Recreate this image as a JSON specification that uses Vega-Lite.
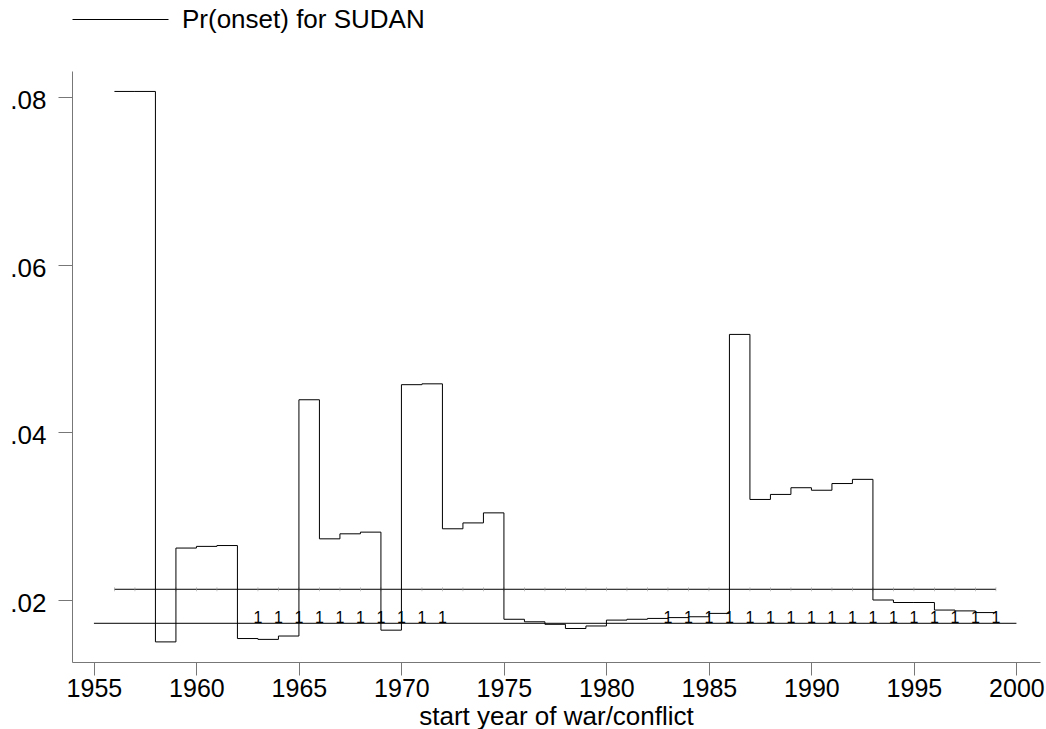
{
  "$schema": "https://vega.github.io/schema/vega-lite/v6.json",
  "autosize": {"type": "none"},
  "padding": {"left": 72, "top": 71, "right": 6, "bottom": 67},
  "width": 968,
  "height": 591,
  "background": "white",
  "config": {
    "view": {"stroke": null},
    "font": "Liberation Sans",
    "axis": {"grid": false, "labelColor": "black", "titleColor": "black", "domainColor": "#777", "tickColor": "#777", "labelFont": "Liberation Sans", "titleFont": "Liberation Sans"}
  },
  "datasets": {
    "pr": [
      {"year": 1956, "value": 0.0807}, {"year": 1957, "value": 0.0807}, {"year": 1958, "value": 0.0150},
      {"year": 1959, "value": 0.0262}, {"year": 1960, "value": 0.0264}, {"year": 1961, "value": 0.0265},
      {"year": 1962, "value": 0.0154}, {"year": 1963, "value": 0.0153}, {"year": 1964, "value": 0.0157},
      {"year": 1965, "value": 0.0439}, {"year": 1966, "value": 0.0273}, {"year": 1967, "value": 0.0279},
      {"year": 1968, "value": 0.0281}, {"year": 1969, "value": 0.0164}, {"year": 1970, "value": 0.0457},
      {"year": 1971, "value": 0.0458}, {"year": 1972, "value": 0.0285}, {"year": 1973, "value": 0.0292},
      {"year": 1974, "value": 0.0304}, {"year": 1975, "value": 0.0177}, {"year": 1976, "value": 0.0174},
      {"year": 1977, "value": 0.0171}, {"year": 1978, "value": 0.0166}, {"year": 1979, "value": 0.0169},
      {"year": 1980, "value": 0.0176}, {"year": 1981, "value": 0.0177}, {"year": 1982, "value": 0.0178},
      {"year": 1983, "value": 0.0179}, {"year": 1984, "value": 0.0180}, {"year": 1985, "value": 0.0184},
      {"year": 1986, "value": 0.0517}, {"year": 1987, "value": 0.0320}, {"year": 1988, "value": 0.0326},
      {"year": 1989, "value": 0.0334}, {"year": 1990, "value": 0.0331}, {"year": 1991, "value": 0.0339},
      {"year": 1992, "value": 0.0344}, {"year": 1993, "value": 0.0200}, {"year": 1994, "value": 0.0197},
      {"year": 1995, "value": 0.0197}, {"year": 1996, "value": 0.0188}, {"year": 1997, "value": 0.0187},
      {"year": 1998, "value": 0.0185}, {"year": 1999, "value": 0.0185}
    ],
    "meanline": [
      {"year": 1956, "value": 0.02128}, {"year": 1957, "value": 0.02128}, {"year": 1958, "value": 0.02128},
      {"year": 1959, "value": 0.02128}, {"year": 1960, "value": 0.02128}, {"year": 1961, "value": 0.02128},
      {"year": 1962, "value": 0.02128}, {"year": 1963, "value": 0.02128}, {"year": 1964, "value": 0.02128},
      {"year": 1965, "value": 0.02128}, {"year": 1966, "value": 0.02128}, {"year": 1967, "value": 0.02128},
      {"year": 1968, "value": 0.02128}, {"year": 1969, "value": 0.02128}, {"year": 1970, "value": 0.02128},
      {"year": 1971, "value": 0.02128}, {"year": 1972, "value": 0.02128}, {"year": 1973, "value": 0.02128},
      {"year": 1974, "value": 0.02128}, {"year": 1975, "value": 0.02128}, {"year": 1976, "value": 0.02128},
      {"year": 1977, "value": 0.02128}, {"year": 1978, "value": 0.02128}, {"year": 1979, "value": 0.02128},
      {"year": 1980, "value": 0.02128}, {"year": 1981, "value": 0.02128}, {"year": 1982, "value": 0.02128},
      {"year": 1983, "value": 0.02128}, {"year": 1984, "value": 0.02128}, {"year": 1985, "value": 0.02128},
      {"year": 1986, "value": 0.02128}, {"year": 1987, "value": 0.02128}, {"year": 1988, "value": 0.02128},
      {"year": 1989, "value": 0.02128}, {"year": 1990, "value": 0.02128}, {"year": 1991, "value": 0.02128},
      {"year": 1992, "value": 0.02128}, {"year": 1993, "value": 0.02128}, {"year": 1994, "value": 0.02128},
      {"year": 1995, "value": 0.02128}, {"year": 1996, "value": 0.02128}, {"year": 1997, "value": 0.02128},
      {"year": 1998, "value": 0.02128}, {"year": 1999, "value": 0.02128}
    ],
    "base": [{"year": 1955, "year2": 2000, "value": 0.01722}],
    "war": [
      {"year": 1963, "value": 0.01722, "war": 1}, {"year": 1964, "value": 0.01722, "war": 1},
      {"year": 1965, "value": 0.01722, "war": 1}, {"year": 1966, "value": 0.01722, "war": 1},
      {"year": 1967, "value": 0.01722, "war": 1}, {"year": 1968, "value": 0.01722, "war": 1},
      {"year": 1969, "value": 0.01722, "war": 1}, {"year": 1970, "value": 0.01722, "war": 1},
      {"year": 1971, "value": 0.01722, "war": 1}, {"year": 1972, "value": 0.01722, "war": 1},
      {"year": 1983, "value": 0.01722, "war": 1}, {"year": 1984, "value": 0.01722, "war": 1},
      {"year": 1985, "value": 0.01722, "war": 1}, {"year": 1986, "value": 0.01722, "war": 1},
      {"year": 1987, "value": 0.01722, "war": 1}, {"year": 1988, "value": 0.01722, "war": 1},
      {"year": 1989, "value": 0.01722, "war": 1}, {"year": 1990, "value": 0.01722, "war": 1},
      {"year": 1991, "value": 0.01722, "war": 1}, {"year": 1992, "value": 0.01722, "war": 1},
      {"year": 1993, "value": 0.01722, "war": 1}, {"year": 1994, "value": 0.01722, "war": 1},
      {"year": 1995, "value": 0.01722, "war": 1}, {"year": 1996, "value": 0.01722, "war": 1},
      {"year": 1997, "value": 0.01722, "war": 1}, {"year": 1998, "value": 0.01722, "war": 1},
      {"year": 1999, "value": 0.01722, "war": 1}
    ]
  },
  "layer": [
    {
      "data": {"name": "base"},
      "mark": {"type": "rule", "color": "black", "strokeWidth": 1},
      "encoding": {
        "x": {
          "field": "year", "type": "quantitative",
          "scale": {"domain": [1953.93, 2001.15], "nice": false, "zero": false},
          "axis": {
            "title": "start year of war/conflict",
            "values": [1955, 1960, 1965, 1970, 1975, 1980, 1985, 1990, 1995, 2000],
            "format": "d", "labelFontSize": 25, "tickSize": 13, "labelPadding": 1,
            "titleFontSize": 26, "titleFontWeight": "normal", "titlePadding": 2,
            "labelFlush": false, "labelOverlap": false
          }
        },
        "x2": {"field": "year2"},
        "y": {
          "field": "value", "type": "quantitative",
          "scale": {"domain": [0.0126, 0.08314], "nice": false, "zero": false},
          "axis": {
            "title": null,
            "values": [0.02, 0.04, 0.06, 0.08],
            "labelExpr": "replace(format(datum.value, '.2f'), '0.', '.')",
            "labelFontSize": 26, "tickSize": 14, "labelPadding": 12,
            "labelBaseline": "alphabetic", "labelOffset": 11.5
          }
        }
      }
    },
    {
      "data": {"name": "meanline"},
      "mark": {"type": "line", "color": "black", "strokeWidth": 1},
      "encoding": {
        "x": {"field": "year", "type": "quantitative"},
        "y": {"field": "value", "type": "quantitative"}
      }
    },
    {
      "data": {"name": "meanline"},
      "mark": {"type": "tick", "orient": "vertical", "size": 4, "thickness": 0.8, "color": "#999"},
      "encoding": {
        "x": {"field": "year", "type": "quantitative"},
        "y": {"field": "value", "type": "quantitative"}
      }
    },
    {
      "data": {"name": "pr"},
      "mark": {"type": "line", "interpolate": "step-after", "strokeWidth": 1},
      "encoding": {
        "x": {"field": "year", "type": "quantitative"},
        "y": {"field": "value", "type": "quantitative"},
        "color": {
          "datum": "Pr(onset) for SUDAN",
          "scale": {"range": ["black"]},
          "legend": {
            "title": null, "orient": "none", "legendX": 0, "legendY": -100,
            "padding": 0, "symbolType": "stroke", "symbolSize": 9216,
            "symbolStrokeWidth": 1, "symbolStrokeColor": "black",
            "labelFontSize": 26, "labelFont": "Liberation Sans", "labelColor": "black",
            "labelOffset": 13, "labelLimit": 600
          }
        }
      }
    },
    {
      "data": {"name": "war"},
      "mark": {"type": "text", "fontSize": 16, "baseline": "alphabetic", "align": "center", "color": "black", "font": "Liberation Sans"},
      "encoding": {
        "x": {"field": "year", "type": "quantitative"},
        "y": {"field": "value", "type": "quantitative"},
        "text": {"field": "war", "type": "quantitative"}
      }
    }
  ]
}
